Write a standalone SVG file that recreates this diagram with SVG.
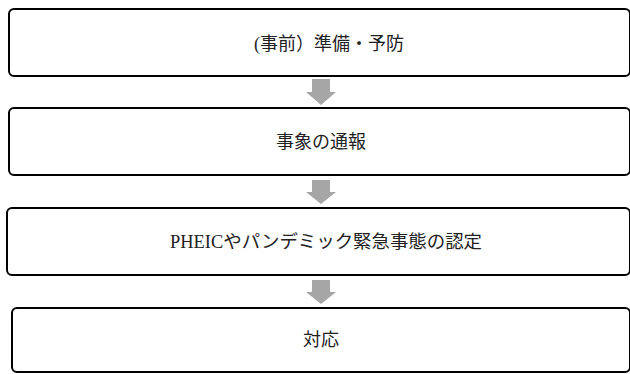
<svg xmlns="http://www.w3.org/2000/svg" width="630" height="374" viewBox="0 0 630 374">
<defs>
<style>
.box{fill:#fff;stroke:#000;stroke-width:2}
.lbl{font-family:"Liberation Serif","Noto Sans CJK JP",serif;font-size:18px;fill:#222;text-anchor:middle}
.arr{fill:#a6a6a6}
</style>
</defs>
<rect width="630" height="374" fill="#fff"/>
<g id="connectors">
<polygon class="arr" points="312,79 330,79 330,92 336,92 321,105 306,92 312,92"/>
<polygon class="arr" points="312,180 330,180 330,192 336,192 321,204 306,192 312,192"/>
<polygon class="arr" points="312,280 330,280 330,292 336,292 321,304 306,292 312,292"/>
</g>
<g id="node1">
<rect class="box" x="9" y="9" width="621" height="67" rx="5"/>
<text class="lbl" x="329" y="50">(事前）準備・予防</text>
</g>
<g id="node2">
<rect class="box" x="9" y="108" width="621" height="67" rx="5"/>
<text class="lbl" x="321" y="148">事象の通報</text>
</g>
<g id="node3">
<rect class="box" x="7" y="208" width="623" height="67" rx="5"/>
<text class="lbl" x="326" y="248" textLength="312" lengthAdjust="spacingAndGlyphs">PHEICやパンデミック緊急事態の認定</text>
</g>
<g id="node4">
<rect class="box" x="12" y="308" width="618" height="64" rx="5"/>
<text class="lbl" x="321" y="346">対応</text>
</g>
</svg>
